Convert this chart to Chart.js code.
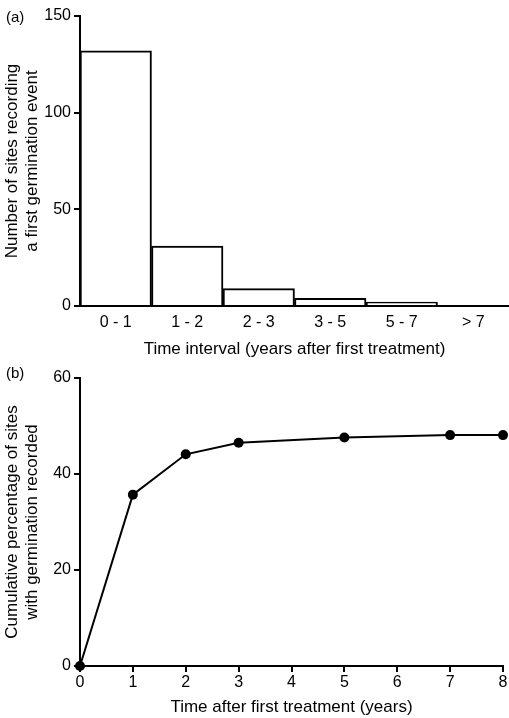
<!DOCTYPE html>
<html>
<head>
<meta charset="utf-8">
<script src="https://cdn.jsdelivr.net/npm/chart.js@4.4.1/dist/chart.umd.min.js"></script>
<style>
  body { margin: 0; background: #fff; font-family: "Liberation Sans", Arial, sans-serif; }
  #wrap { position: relative; width: 509px; height: 718px; }
  canvas { position: absolute; left: 0; }
  .panel { position: absolute; left: 6px; font-size: 15px; color: #000; }
</style>
</head>
<body>
<div id="wrap">
  <canvas id="histChart" width="509" height="360" style="top:0"></canvas>
  <canvas id="cumChart" width="509" height="358" style="top:360px"></canvas>
  <div class="panel" style="top:8px">(a)</div>
  <div class="panel" style="top:364px">(b)</div>
</div>
<script>
"use strict";

// (a) antal lokaler per tidsintervall
const intervals = ['0 - 1', '1 - 2', '2 - 3', '3 - 5', '5 - 7', '> 7'];
const siteCounts = [132, 31, 9, 4, 2, 0];
const yTicksA = [0, 50, 100, 150];

// (b) kumulativ andel
const years = [0, 1, 2, 3, 5, 7, 8];
const cumPercent = [0, 35.7, 44.1, 46.5, 47.6, 48.1, 48.1];
const xTicksB = [0, 1, 2, 3, 4, 5, 6, 7, 8];
const yTicksB = [0, 20, 40, 60];

Chart.defaults.font.family = '"Liberation Sans", Arial, sans-serif';
Chart.defaults.color = '#000';

const black = '#000';
const tickMarks = { display: true, drawOnChartArea: false, drawTicks: true, tickLength: 6, color: black, lineWidth: 2 };
const axisLine = { display: true, color: black, width: 2 };

//Diagram 1
new Chart(document.getElementById('histChart'), {
  type: 'bar',
  data: {
    labels: intervals,
    datasets: [{
      data: siteCounts,
      backgroundColor: '#fff',
      borderColor: black,
      borderWidth: 2,
      barPercentage: 1,
      categoryPercentage: 1
    }]
  },
  options: {
    responsive: false,
    animation: false,
    layout: { padding: { top: 16, right: 0, left: 0, bottom: 0 } },
    plugins: { legend: { display: false }, tooltip: { enabled: false } },
    scales: {
      x: {
        grid: { display: false },
        border: axisLine,
        ticks: { font: { size: 16 }, padding: -1, maxRotation: 0 },
        title: { display: true, text: 'Time interval (years after first treatment)', font: { size: 17 }, padding: 0 },
        afterFit: s => { s.height = 54; }
      },
      y: {
        min: 0, max: 150,
        grid: tickMarks,
        border: axisLine,
        ticks: { font: { size: 16 }, padding: 3 },
        afterBuildTicks: s => { s.ticks = yTicksA.map(v => ({ value: v })); },
        title: { display: true, text: ['Number of sites recording', 'a first germination event'], font: { size: 17 }, padding: { top: 2, bottom: 0 } },
        afterFit: s => { s.width = 80; }
      }
    }
  }
});

//Diagram 2
new Chart(document.getElementById('cumChart'), {
  type: 'line',
  data: {
    datasets: [{
      data: years.map((x, i) => ({ x: x, y: cumPercent[i] })),
      borderColor: black,
      borderWidth: 2,
      backgroundColor: black,
      pointRadius: 5,
      pointBackgroundColor: black,
      pointBorderWidth: 0,
      tension: 0,
      clip: false
    }]
  },
  options: {
    responsive: false,
    animation: false,
    layout: { padding: { top: 18, right: 6, left: 0, bottom: 0 } },
    plugins: { legend: { display: false }, tooltip: { enabled: false } },
    scales: {
      x: {
        type: 'linear', min: 0, max: 8,
        grid: tickMarks,
        border: axisLine,
        ticks: { font: { size: 16 }, padding: 1 },
        afterBuildTicks: s => { s.ticks = xTicksB.map(v => ({ value: v })); },
        title: { display: true, text: 'Time after first treatment (years)', font: { size: 17 }, padding: 0 },
        afterFit: s => { s.height = 52; }
      },
      y: {
        min: 0, max: 60,
        grid: tickMarks,
        border: axisLine,
        ticks: { font: { size: 16 }, padding: 3 },
        afterBuildTicks: s => { s.ticks = yTicksB.map(v => ({ value: v })); },
        title: { display: true, text: ['Cumulative percentage of sites', 'with germination recorded'], font: { size: 17 }, padding: { top: 2, bottom: 0 } },
        afterFit: s => { s.width = 80; }
      }
    }
  }
});
</script>
</body>
</html>
